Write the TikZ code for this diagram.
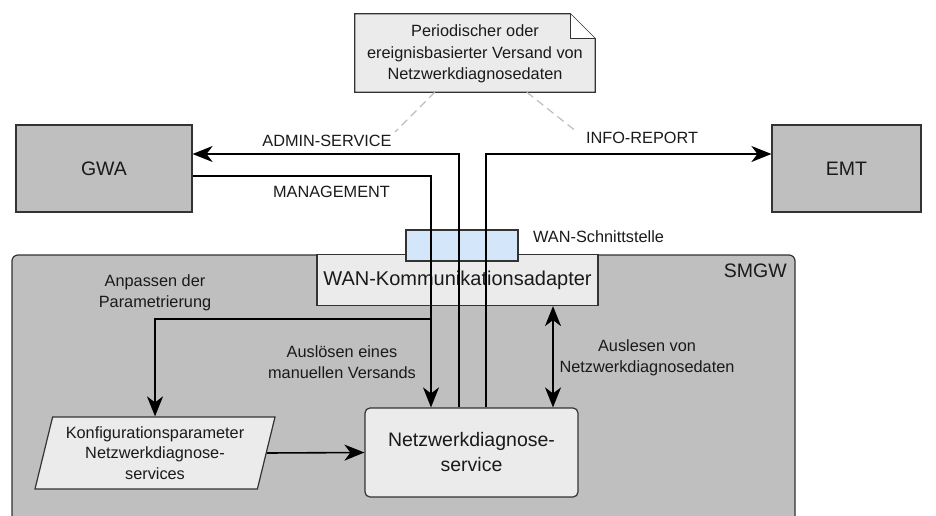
\documentclass[tikz,border=0pt]{standalone}
\usepackage{fontspec}
\setmainfont{Liberation Sans}
\usetikzlibrary{arrows.meta, shapes.geometric, calc}
\definecolor{boxgray}{HTML}{BFBFBF}
\definecolor{panefill}{HTML}{EBEBEB}
\definecolor{ifblue}{HTML}{D4E6FA}
\definecolor{edgecol}{HTML}{333333}
\definecolor{dashcol}{HTML}{BDBDBD}
\definecolor{txtcol}{HTML}{1A1A1A}
\tikzset{block/.style={draw=edgecol, line width=1.2pt, inner sep=0pt, text=txtcol, align=center},
	bigtext/.style={font=\fontsize{19.5}{25}\selectfont},
	lbl/.style={text=txtcol, font=\fontsize{16.3}{20.5}\selectfont, align=center, inner sep=0pt},
	flow/.style={line width=1.6pt, -{Stealth[length=20pt,width=16pt,inset=6pt]}},
	flowboth/.style={line width=1.6pt, {Stealth[length=20pt,width=16pt,inset=6pt]}-{Stealth[length=20pt,width=16pt,inset=6pt]}},
	hint/.style={draw=dashcol, line width=1.2pt, dash pattern=on 8pt off 5pt}}

\begin{document}
\begin{tikzpicture}[x=1pt, y=-1pt]
	\useasboundingbox (0,0) rectangle (936,516);
	\clip (0,0) rectangle (936,516);
	
	% SMGW
	\draw [fill=boxgray, draw=edgecol, line width=1.2pt, rounded corners=6pt] (12,255) rectangle (795,545);
	\node [lbl, bigtext, anchor=east] (smgw) at (787,271) {SMGW};
	
	\node [block, fill=boxgray, bigtext, minimum width=176pt, minimum height=87pt] (gwa) at (104,168.5) {GWA};
	\node [block, fill=boxgray, bigtext, minimum width=149pt, minimum height=87pt] (emt) at (846.5,168.5) {EMT};
	
	\node [block, fill=panefill, font=\fontsize{20}{25}\selectfont, minimum width=281pt, minimum height=51pt] (adp) at (457.5,280) {WAN-Kommunikationsadapter};
	\node [block, fill=ifblue, minimum width=112pt, minimum height=31pt] (wan) at (462,245.5) {};
	\node [lbl, anchor=west] (wanlbl) at (533,237) {WAN-Schnittstelle};
	
	% note
	\node [lbl, font=\fontsize{16.3}{21.5}\selectfont, minimum width=240pt, minimum height=78pt] (note) at (475,53) {};
	\draw [fill=panefill, draw=edgecol, line width=1.2pt] (note.north west) -- ($(note.north east)+(-25,0)$) -- ($(note.north east)+(0,25)$) -- (note.south east) -- (note.south west) -- cycle;
	\draw [fill=white, draw=edgecol, line width=1.2pt] ($(note.north east)+(-25,0)$) -- ($(note.north east)+(-25,25)$) -- ($(note.north east)+(0,25)$);
	\node [lbl, font=\fontsize{16.3}{21.5}\selectfont] (notetext) at (475,54) {Periodischer oder\\ereignisbasierter Versand von\\Netzwerkdiagnosedaten};
	
	\node [block, fill=panefill, bigtext, rounded corners=5pt, minimum width=213pt, minimum height=89pt] (svc) at (471.5,452.5) {Netzwerkdiagnose-\\service};
	\node [block, fill=panefill, lbl, trapezium, trapezium left angle=71.6, trapezium right angle=108.4, trapezium stretches body, minimum width=240pt, minimum height=72pt, draw=edgecol, line width=1.2pt] (konf) at (155,453) {Konfigurationsparameter\\Netzwerkdiagnose-\\services};
	
	\coordinate (mgmt) at (431,176);
	\coordinate (split) at (431,319);
	\coordinate (admin) at (459,154);
	\coordinate (info) at (486,154);
	\coordinate (readout) at (553,0);
	
	% connectors
	\draw [flow] (gwa.east |- mgmt) -| (svc.north -| mgmt);
	\draw [flow] (split) -| (konf.north);
	\draw [flow] (svc.north -| admin) |- (gwa.east |- admin);
	\draw [flow] (svc.north -| info) |- (emt.west |- info);
	\draw [flowboth] (adp.south -| readout) -- (svc.north -| readout);
	\draw [flow] (konf.east) -- (svc.west);
	
	\node [lbl] (adminlbl) at (327,141) {ADMIN-SERVICE};
	\node [lbl] (mgmtlbl) at (331.5,192) {MANAGEMENT};
	\node [lbl] (infolbl) at (642,138) {INFO-REPORT};
	\node [lbl] (anpass) at (155,293) {Anpassen der\\Parametrierung};
	\node [lbl] (ausloes) at (342,362) {Auslösen eines\\manuellen Versands};
	\node [lbl] (auslese) at (647,358) {Auslesen von\\Netzwerkdiagnosedaten};
	
	\draw [hint] ($(note.south west)+(80,0)$) -- (395,132);
	\draw [hint] ($(note.south west)+(172,0)$) -- (577,132);
	
\end{tikzpicture}
\end{document}
